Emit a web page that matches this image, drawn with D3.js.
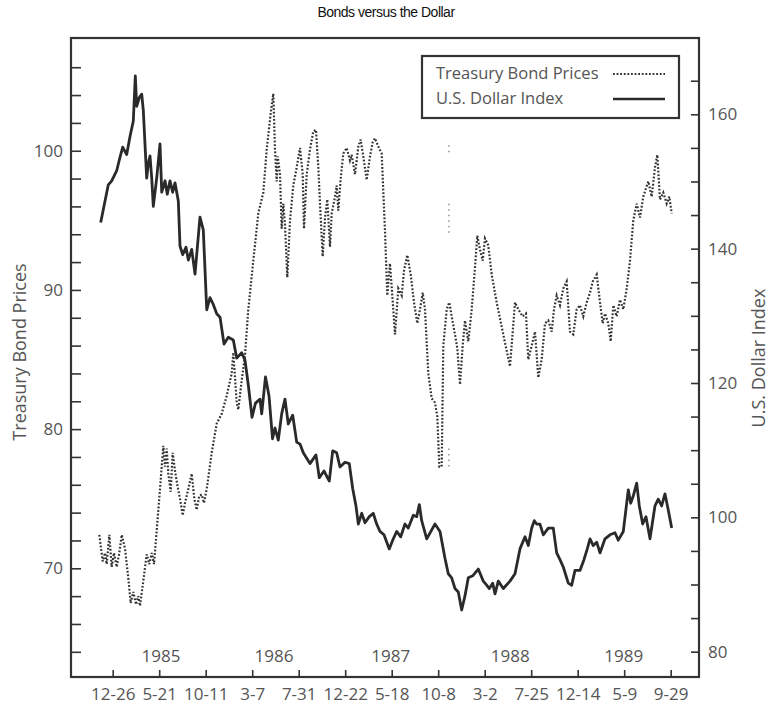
<!DOCTYPE html>
<html>
<head>
<meta charset="utf-8">
<script src="https://cdn.jsdelivr.net/npm/d3@7"></script>
<style>
  body { margin: 0; background: #fff; }
  text { font-family: "Open Sans", "DejaVu Sans", sans-serif; fill: #555; }
</style>
</head>
<body>
<svg id="chart" width="772" height="706"></svg>
<script>
// tick labels on the date axis (evenly spaced, index 0..12)
const dateLabels = ["12-26", "5-21", "10-11", "3-7", "7-31", "12-22", "5-18", "10-8", "3-2", "7-25", "12-14", "5-9", "9-29"];
const yearLabels = ["1985", "1986", "1987", "1988", "1989"];
const yearPos = [1.04, 3.47, 5.98, 8.55, 10.99];

const bondTicks = [64, 66, 68, 70, 72, 74, 76, 78, 80, 82, 84, 86, 88, 90, 92, 94, 96, 98, 100, 102, 104, 106];
const dollarTicks = [80, 85, 90, 95, 100, 105, 110, 115, 120, 125, 130, 135, 140, 145, 150, 155, 160, 165];

// U.S. Dollar Index (solid line, right axis) - position on date axis / value
const dollarT = [-0.258, -0.095, -0.022, 0.086, 0.142, 0.215, 0.301, 0.372, 0.443, 0.486,
  0.516, 0.572, 0.624, 0.658, 0.731, 0.766, 0.802, 0.839, 0.873, 0.946,
  1.017, 1.054, 1.125, 1.174, 1.232, 1.290, 1.340, 1.411, 1.447, 1.505,
  1.576, 1.626, 1.699, 1.770, 1.877, 1.948, 2.022, 2.092, 2.163, 2.237,
  2.308, 2.394, 2.486, 2.594, 2.667, 2.774, 2.845, 2.916, 2.996, 3.071,
  3.168, 3.204, 3.286, 3.361, 3.437, 3.490, 3.561, 3.634, 3.705, 3.776,
  3.871, 3.957, 4.028, 4.099, 4.243, 4.372, 4.443, 4.544, 4.658, 4.731,
  4.817, 4.888, 4.996, 5.088, 5.161, 5.232, 5.282, 5.355, 5.426, 5.518,
  5.604, 5.677, 5.748, 5.834, 5.948, 6.034, 6.108, 6.194, 6.286, 6.357,
  6.465, 6.538, 6.594, 6.645, 6.753, 6.931, 7.039, 7.146, 7.217, 7.290,
  7.361, 7.432, 7.505, 7.576, 7.647, 7.742, 7.862, 7.970, 8.043, 8.099,
  8.172, 8.222, 8.292, 8.400, 8.544, 8.652, 8.759, 8.867, 8.938, 9.011,
  9.067, 9.118, 9.189, 9.260, 9.368, 9.475, 9.548, 9.619, 9.690, 9.798,
  9.871, 9.942, 10.049, 10.135, 10.206, 10.265, 10.335, 10.409, 10.480, 10.587,
  10.695, 10.802, 10.873, 10.981, 11.088, 11.140, 11.196, 11.269, 11.325, 11.398,
  11.469, 11.555, 11.662, 11.733, 11.806, 11.877, 11.948, 12.022];
const dollarV = [143.9, 149.5, 150.1, 151.6, 153.2, 155.1, 154.0, 156.7, 159.0, 165.7,
  161.2, 162.5, 163.0, 160.6, 150.5, 152.7, 153.8, 150.5, 146.3, 150.5,
  155.6, 148.4, 150.1, 148.1, 150.1, 148.4, 149.8, 147.1, 140.4, 139.1,
  140.2, 138.3, 139.9, 136.2, 144.7, 142.8, 130.9, 132.7, 131.7, 130.3,
  129.8, 125.8, 126.8, 126.4, 123.7, 124.5, 123.4, 119.7, 114.9, 117.0,
  117.6, 115.4, 120.9, 118.1, 111.7, 113.3, 111.5, 115.4, 117.6, 113.9,
  115.2, 111.2, 110.9, 109.6, 108.0, 109.3, 105.9, 106.9, 105.4, 109.9,
  109.6, 107.5, 108.2, 108.0, 104.3, 101.7, 99.0, 100.6, 99.2, 100.1,
  100.6, 99.0, 97.9, 97.4, 95.3, 96.8, 97.9, 97.1, 99.0, 98.4,
  100.3, 100.1, 101.9, 99.5, 96.8, 99.0, 97.9, 93.9, 91.6, 91.0,
  89.4, 88.9, 86.2, 88.3, 91.0, 91.3, 92.3, 90.5, 89.9, 89.4,
  90.2, 88.6, 90.5, 89.4, 90.5, 91.6, 95.3, 97.1, 95.8, 98.4,
  99.5, 99.0, 99.0, 97.4, 98.4, 98.4, 94.7, 93.7, 92.6, 90.2,
  89.9, 92.1, 92.1, 93.7, 95.3, 96.8, 95.8, 96.3, 94.7, 96.8,
  97.4, 97.7, 96.6, 97.9, 104.1, 102.1, 103.2, 105.1, 101.7, 99.0,
  100.1, 96.8, 101.7, 102.7, 101.7, 103.5, 101.1, 98.4];

// Treasury Bond Prices (dotted line, left axis)
const bondT = [-0.288, -0.215, -0.166, -0.129, -0.073, -0.022, 0.028, 0.086, 0.142, 0.194,
  0.265, 0.335, 0.387, 0.443, 0.501, 0.551, 0.587, 0.658, 0.731, 0.787,
  0.839, 0.888, 0.946, 1.017, 1.088, 1.125, 1.161, 1.196, 1.247, 1.290,
  1.340, 1.389, 1.447, 1.505, 1.555, 1.626, 1.699, 1.755, 1.806, 1.862,
  1.914, 1.963, 2.022, 2.129, 2.237, 2.344, 2.452, 2.559, 2.594, 2.667,
  2.701, 2.774, 2.845, 2.916, 3.024, 3.131, 3.239, 3.312, 3.398, 3.454,
  3.490, 3.527, 3.548, 3.598, 3.634, 3.669, 3.705, 3.755, 3.813, 3.884,
  3.957, 4.028, 4.086, 4.114, 4.172, 4.243, 4.314, 4.372, 4.422, 4.458,
  4.516, 4.566, 4.615, 4.673, 4.710, 4.781, 4.817, 4.852, 4.903, 4.959,
  5.032, 5.103, 5.140, 5.211, 5.282, 5.333, 5.389, 5.462, 5.533, 5.591,
  5.641, 5.712, 5.785, 5.856, 5.905, 5.963, 6.013, 6.071, 6.142, 6.215,
  6.265, 6.335, 6.409, 6.480, 6.551, 6.609, 6.667, 6.716, 6.787, 6.860,
  6.931, 6.981, 7.024, 7.075, 7.110, 7.183, 7.239, 7.290, 7.361, 7.411,
  7.469, 7.527, 7.576, 7.647, 7.720, 7.791, 7.841, 7.899, 7.957, 8.006,
  8.077, 8.151, 8.258, 8.400, 8.544, 8.652, 8.723, 8.817, 8.888, 8.938,
  9.011, 9.082, 9.153, 9.226, 9.297, 9.368, 9.441, 9.490, 9.548, 9.619,
  9.690, 9.763, 9.834, 9.905, 9.978, 10.049, 10.120, 10.194, 10.265, 10.323,
  10.409, 10.480, 10.538, 10.587, 10.658, 10.710, 10.766, 10.839, 10.910, 10.981,
  11.054, 11.125, 11.196, 11.269, 11.340, 11.411, 11.518, 11.591, 11.662, 11.712,
  11.770, 11.841, 11.914, 11.970, 12.022];
const bondV = [72.4, 70.5, 71.1, 70.3, 72.4, 70.1, 71.1, 70.1, 71.1, 72.4,
  71.4, 69.3, 67.5, 68.3, 67.4, 68.0, 67.3, 69.1, 71.0, 70.3,
  71.1, 70.3, 72.7, 75.7, 78.8, 77.3, 78.6, 76.8, 75.5, 78.3,
  77.0, 76.0, 75.0, 73.8, 74.7, 75.7, 76.8, 75.0, 74.2, 75.2,
  75.3, 74.7, 75.7, 78.3, 80.4, 81.1, 82.4, 84.0, 85.5, 81.9,
  81.4, 83.5, 85.3, 88.6, 92.1, 95.5, 97.0, 100.1, 102.7, 104.1,
  100.1, 97.8, 99.6, 98.3, 94.4, 96.2, 94.7, 90.9, 95.0, 97.5,
  98.8, 100.2, 98.3, 94.4, 98.3, 100.1, 101.4, 101.5, 98.8, 96.2,
  92.4, 95.2, 96.5, 93.1, 95.5, 96.7, 97.5, 95.7, 98.0, 99.8,
  100.2, 99.3, 99.7, 98.3, 100.3, 100.8, 99.6, 97.9, 99.6, 100.6,
  100.9, 100.3, 99.8, 94.2, 89.6, 91.9, 89.6, 86.8, 90.1, 89.6,
  91.4, 92.5, 91.1, 89.1, 87.6, 88.6, 89.8, 88.6, 84.0, 82.2,
  81.9, 80.9, 77.3, 77.3, 86.0, 88.6, 89.1, 88.1, 86.8, 85.8,
  83.2, 86.0, 87.8, 86.3, 88.6, 91.6, 93.9, 92.9, 92.1, 93.7,
  93.2, 91.1, 89.1, 86.8, 84.5, 89.1, 88.6, 88.1, 88.3, 85.0,
  86.0, 87.0, 83.7, 85.0, 87.6, 87.8, 87.0, 88.6, 89.6, 88.9,
  90.1, 90.6, 87.0, 86.8, 88.6, 88.9, 88.1, 89.1, 89.8, 90.6,
  91.1, 89.1, 87.6, 88.3, 87.6, 86.3, 88.9, 88.1, 89.3, 88.6,
  90.1, 92.1, 95.0, 96.2, 95.2, 96.7, 97.8, 96.7, 98.8, 99.7,
  96.5, 97.0, 96.2, 96.7, 95.5];

// faint stray dots of the bond trace around the Oct 1987 gap
const gapT = 7.23;
const gapRuns = [[100.4, 99.7], [96.2, 93.9], [78.6, 77.3]];

const svg = d3.select("#chart");
const W = 772, H = 706;
const margin = { top: 38, right: 73, bottom: 29, left: 71 };

const x = d3.scaleLinear().domain([-0.897, 12.609]).range([margin.left, W - margin.right]);
const yBond = d3.scaleLinear().domain([62.19, 108.1]).range([H - margin.bottom, margin.top]);
const yDollar = d3.scaleLinear().domain([76.23, 171.36]).range([H - margin.bottom, margin.top]);

// titulo
svg.append("text")
  .attr("x", 386).attr("y", 17)
  .attr("text-anchor", "middle")
  .style("font-family", "'Liberation Sans', Arial, sans-serif")
  .style("font-size", "14px")
  .style("letter-spacing", "-0.5px")
  .style("fill", "#111")
  .text("Bonds versus the Dollar");

// eixo esquerdo (bonds)
const leftAxis = svg.append("g")
  .attr("transform", `translate(${margin.left},0)`)
  .call(d3.axisLeft(yBond).tickValues(bondTicks).tickSize(-10).tickPadding(8)
    .tickFormat(d => d % 10 === 0 ? d : ""));

// eixo direito (dollar)
const rightAxis = svg.append("g")
  .attr("transform", `translate(${W - margin.right},0)`)
  .call(d3.axisRight(yDollar).tickValues(dollarTicks).tickSize(-8).tickPadding(9)
    .tickFormat(d => d % 20 === 0 ? d : ""));

// eixo de datas
const bottomAxis = svg.append("g")
  .attr("transform", `translate(0,${H - margin.bottom})`)
  .call(d3.axisBottom(x).tickValues(d3.range(dateLabels.length)).tickSize(-7).tickPadding(11)
    .tickFormat(i => dateLabels[i]));

[leftAxis, rightAxis, bottomAxis].forEach(g => {
  g.select(".domain").remove();
  g.selectAll(".tick line").attr("stroke", "#333").attr("stroke-width", 1.6);
  g.selectAll(".tick text").style("font-size", "17px").style("fill", "#555")
    .style("font-family", "'Open Sans', sans-serif");
});

// moldura
svg.append("rect")
  .attr("x", margin.left).attr("y", margin.top)
  .attr("width", W - margin.left - margin.right)
  .attr("height", H - margin.top - margin.bottom)
  .attr("fill", "none").attr("stroke", "#333").attr("stroke-width", 2.2);

// anos
svg.selectAll("text.year")
  .data(yearLabels)
  .enter()
  .append("text")
  .attr("class", "year")
  .attr("x", (d, i) => x(yearPos[i]))
  .attr("y", 662)
  .attr("text-anchor", "middle")
  .style("font-size", "17px")
  .text(d => d);

// titulos dos eixos
svg.append("text")
  .attr("transform", "translate(20,352) rotate(-90)")
  .attr("text-anchor", "middle").attr("dy", "0.35em")
  .style("font-size", "18px")
  .text("Treasury Bond Prices");

svg.append("text")
  .attr("transform", "translate(759,358) rotate(-90)")
  .attr("text-anchor", "middle").attr("dy", "0.35em")
  .style("font-size", "18px")
  .text("U.S. Dollar Index");

// linhas
const bondData = bondT.map((t, i) => [t, bondV[i]]);
const dollarData = dollarT.map((t, i) => [t, dollarV[i]]);

svg.append("path")
  .datum(bondData)
  .attr("fill", "none")
  .attr("stroke", "#333")
  .attr("stroke-width", 2.2)
  .attr("stroke-dasharray", "1.8,1.8")
  .attr("d", d3.line().x(d => x(d[0])).y(d => yBond(d[1])));

svg.selectAll("line.gap")
  .data(gapRuns)
  .enter()
  .append("line")
  .attr("x1", x(gapT)).attr("x2", x(gapT))
  .attr("y1", d => yBond(d[0])).attr("y2", d => yBond(d[1]))
  .attr("stroke", "#999")
  .attr("stroke-width", 1.6)
  .attr("stroke-dasharray", "1.5,4");

svg.append("path")
  .datum(dollarData)
  .attr("fill", "none")
  .attr("stroke", "#2a2a2a")
  .attr("stroke-width", 2.8)
  .attr("stroke-linejoin", "round")
  .attr("d", d3.line().x(d => x(d[0])).y(d => yDollar(d[1])));

// legenda
const legend = svg.append("g");
legend.append("rect")
  .attr("x", 422).attr("y", 56).attr("width", 257).attr("height", 62)
  .attr("fill", "#fff").attr("stroke", "#333").attr("stroke-width", 2.2);
legend.append("text").attr("x", 436).attr("y", 79).style("font-size", "16.5px").text("Treasury Bond Prices");
legend.append("text").attr("x", 436).attr("y", 104).style("font-size", "16.5px").text("U.S. Dollar Index");
legend.append("line")
  .attr("x1", 613).attr("x2", 665).attr("y1", 74).attr("y2", 74)
  .attr("stroke", "#333").attr("stroke-width", 2).attr("stroke-dasharray", "1.8,1.8");
legend.append("line")
  .attr("x1", 613).attr("x2", 665).attr("y1", 99).attr("y2", 99)
  .attr("stroke", "#2a2a2a").attr("stroke-width", 2.6);
</script>
</body>
</html>
